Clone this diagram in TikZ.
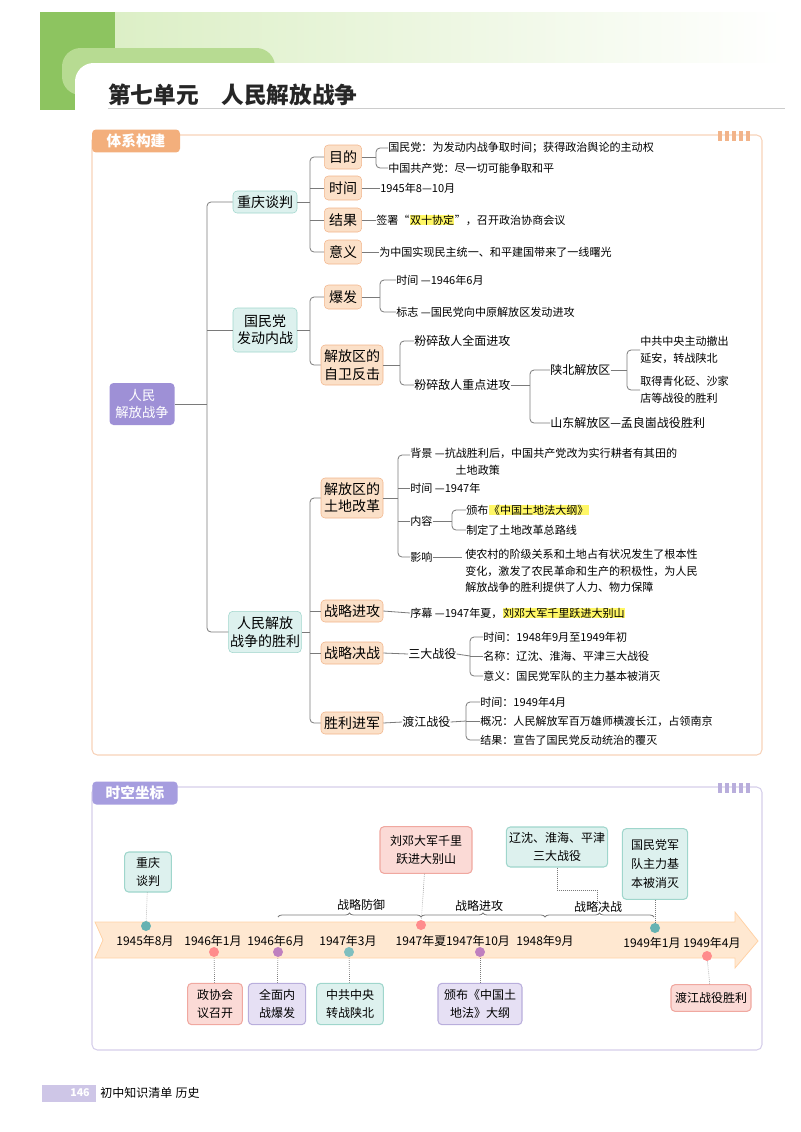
\documentclass[tikz,border=0pt]{standalone}
\usepackage{fontspec}
\setmainfont{Noto Sans CJK SC}
\usetikzlibrary{decorations.pathreplacing}
\definecolor{ln}{HTML}{7A7A7A}
\definecolor{orfill}{HTML}{FBE0C8}
\definecolor{ordraw}{HTML}{F2B48A}
\definecolor{tefill}{HTML}{DDF1EE}
\definecolor{tedraw}{HTML}{9FD6CC}
\definecolor{pufill}{HTML}{E6E0F4}
\definecolor{pudraw}{HTML}{B9AEDC}
\definecolor{pkfill}{HTML}{FBDAD6}
\definecolor{pkdraw}{HTML}{F0A8A0}
\definecolor{rootc}{HTML}{9E90D6}
\definecolor{gdark}{HTML}{8DC460}
\definecolor{gmid}{HTML}{B7DB92}
\definecolor{glight}{HTML}{DCEFC6}
\begin{document}
\begin{tikzpicture}[x=0.75pt,y=-0.75pt,
 conn/.style={draw=ln,line width=0.6pt,rounded corners=3pt},
 l1/.style={draw=tedraw,fill=tefill,rounded corners=3pt,font=\fontsize{10.5pt}{13pt}\selectfont,align=center,inner sep=1pt},
 l2/.style={draw=ordraw,fill=orfill,rounded corners=3pt,font=\fontsize{10.5pt}{13pt}\selectfont,align=center,inner sep=1pt},
 tx/.style={anchor=west,font=\fontsize{8.3pt}{12.5pt}\selectfont,inner sep=0pt,align=left},
 hl/.style={fill=yellow!60},
 tb/.style={rounded corners=3pt,font=\fontsize{9pt}{14pt}\selectfont,align=center,inner sep=2pt,line width=0.8pt},
 tbt/.style={tb,draw=tedraw,fill=tefill},
 tbp/.style={tb,draw=pudraw,fill=pufill},
 tbk/.style={tb,draw=pkdraw,fill=pkfill},
 dot/.style={circle,inner sep=0pt,minimum size=7.5pt},
 dl/.style={draw=ln,densely dotted,line width=0.5pt},
 yr/.style={font=\fontsize{9pt}{11pt}\selectfont\itshape,inner sep=0pt},
 br/.style={draw=ln,line width=0.6pt,decorate,decoration={brace,amplitude=3pt}}
]
\useasboundingbox (0,0) rectangle (800,1132);
% header
\fill[gdark] (40,12) rectangle (115,110);
\shade[left color=glight, right color=white] (115,12) rectangle (785,65);
\fill[gmid,rounded corners=14pt] (62,48) rectangle (275,95);
\fill[white,rounded corners=14pt] (75,63) rectangle (800,130);
\fill[white] (75,100) rectangle (800,130);
\draw[gray!40,line width=0.5pt] (108,108) -- (785,108);
\node[anchor=west,font=\fontsize{17pt}{20pt}\selectfont\bfseries,inner sep=0pt,text=black!85] (title) at (108,95) {第七单元\quad 人民解放战争};
% section 1
\draw[draw=ordraw!60,line width=0.8pt,rounded corners=4pt] (92,135) rectangle (762,755);
\node[fill=ordraw!90!orange,text=white,rounded corners=3pt,font=\fontsize{11pt}{13pt}\selectfont\bfseries,minimum width=66pt,minimum height=16pt] (tab1) at (136,141) {体系构建};
\foreach \i in {0,1,2,3,4} \fill[ordraw] (718+\i*7,131) rectangle (722+\i*7,141);
% root
\node[fill=rootc,text=white,rounded corners=3pt,minimum width=48.75pt,minimum height=31.5pt,align=center,font=\fontsize{10pt}{13pt}\selectfont,inner sep=0pt] (root) at (142,404) {人民\\解放战争};
\node[l1,minimum width=48pt,minimum height=16.5pt] (a) at (265,202) {重庆谈判};
\node[l1,minimum width=48pt,minimum height=33pt] (b) at (265,330) {国民党\\发动内战};
\node[l1,minimum width=52pt,minimum height=31pt] (c) at (265,632) {人民解放\\战争的胜利};
\coordinate (t0) at (207,404);
\draw[conn] (root.east) -- (t0);
\draw[conn] (a.west) -| (t0) |- (c.west);
\draw[conn] (b.west) -- (b.west-|t0);
% level 2
\node[l2,minimum width=28pt,minimum height=18pt] (a1) at (343,157) {目的};
\node[l2,minimum width=28pt,minimum height=18pt] (a2) at (343,188) {时间};
\node[l2,minimum width=28pt,minimum height=18pt] (a3) at (343,220) {结果};
\node[l2,minimum width=28pt,minimum height=18pt] (a4) at (343,252) {意义};
\coordinate (ta) at (310,202);
\draw[conn] (a.east) -- (ta);
\draw[conn] (a1.west) -| (ta) |- (a4.west);
\draw[conn] (a2.west) -- (a2.west-|ta);
\draw[conn] (a3.west) -- (a3.west-|ta);
\node[l2,minimum width=28pt,minimum height=18pt] (b1) at (343,297) {爆发};
\node[l2,minimum width=46.5pt,minimum height=30pt] (b2) at (352,365) {解放区的\\自卫反击};
\coordinate (tb) at (310,330);
\draw[conn] (b.east) -- (tb);
\draw[conn] (b1.west) -| (tb) |- (b2.west);
\node[l2,minimum width=46.5pt,minimum height=30pt] (c1) at (352,498) {解放区的\\土地改革};
\node[l2,minimum width=46.5pt,minimum height=16.5pt] (c2) at (352,611) {战略进攻};
\node[l2,minimum width=46.5pt,minimum height=16.5pt] (c3) at (352,653) {战略决战};
\node[l2,minimum width=46.5pt,minimum height=16.5pt] (c4) at (352,723) {胜利进军};
\coordinate (tc) at (310,632);
\draw[conn] (c.east) -- (tc);
\draw[conn] (c1.west) -| (tc) |- (c4.west);
\draw[conn] (c2.west) -- (c2.west-|tc);
\draw[conn] (c3.west) -- (c3.west-|tc);
% a texts
\node[tx] (a1x) at (388,148) {国民党：为发动内战争取时间；获得政治舆论的主动权};
\node[tx] (a1y) at (388,168) {中国共产党：尽一切可能争取和平};
\draw[conn] (a1.east) -- (376,157);
\draw[conn] (a1x.west) -| (376,157) |- (a1y.west);
\node[tx] (a2x) at (380,188) {1945年8—10月};
\draw[conn] (a2.east) -- (a2x.west);
\node[tx] (a3x) at (376,220) {签署“};
\node[tx,hl] (a3y) at (a3x.east) {双十协定};
\node[tx] (a3z) at (a3y.east) {”，召开政治协商会议};
\draw[conn] (a3.east) -- (a3x.west);
\node[tx] (a4x) at (379,252) {为中国实现民主统一、和平建国带来了一线曙光};
\draw[conn] (a4.east) -- (a4x.west);
% b texts
\node[tx] (b1x) at (396,280) {时间 —1946年6月};
\node[tx] (b1y) at (396,312) {标志 —国民党向中原解放区发动进攻};
\draw[conn] (b1.east) -- (380,297);
\draw[conn] (b1x.west) -| (380,297) |- (b1y.west);
\node[tx,font=\fontsize{9pt}{12pt}\selectfont] (b2x) at (414,341) {粉碎敌人全面进攻};
\node[tx,font=\fontsize{9pt}{12pt}\selectfont] (b2y) at (414,385) {粉碎敌人重点进攻};
\draw[conn] (b2.east) -- (400,365);
\draw[conn] (b2x.west) -| (400,365) |- (b2y.west);
\node[tx,font=\fontsize{9pt}{12pt}\selectfont] (sb) at (550,370) {陕北解放区};
\node[tx,font=\fontsize{9pt}{12pt}\selectfont] (sd) at (550,423) {山东解放区—孟良崮战役胜利};
\draw[conn] (b2y.east) -- (530,385);
\draw[conn] (sb.west) -| (530,385) |- (sd.west);
\node[tx] (sb1) at (640,350) {中共中央主动撤出\\延安，转战陕北};
\node[tx] (sb2) at (640,390) {取得青化砭、沙家\\店等战役的胜利};
\draw[conn] (sb.east) -- (627,370);
\draw[conn] (sb1.west) -| (627,370) |- (sb2.west);
% c1 texts
\node[tx] (cb) at (410,462) {背景 —抗战胜利后，中国共产党改为实行耕者有其田的\\\hspace*{4.1em}土地政策};
\node[tx] (ct) at (410,488) {时间 —1947年};
\node[tx] (cn) at (410,521) {内容};
\node[tx] (cy) at (410,557) {影响};
\coordinate (k0) at (398,498);
\draw[conn] (c1.east) -- (k0);
\draw[conn] (410,455) -| (k0) |- (cy.west);
\draw[conn] (ct.west) -- (ct.west-|k0);
\draw[conn] (cn.west) -- (cn.west-|k0);
\node[tx] (cn0) at (466,510) {颁布};
\node[tx,hl] (cn1) at (cn0.east) {《中国土地法大纲》};
\node[tx] (cn2) at (466,530) {制定了土地改革总路线};
\draw[conn] (cn.east) -- (452,521);
\draw[conn] (cn0.west) -| (452,521) |- (cn2.west);
\node[tx,anchor=north west] (cyx) at (465,549) {使农村的阶级关系和土地占有状况发生了根本性\\变化，激发了农民革命和生产的积极性，为人民\\解放战争的胜利提供了人力、物力保障};
\draw[conn] (cy.east) -- (462,557);
% c2
\node[tx] (c2x) at (410,613) {序幕 —1947年夏，};
\node[tx,hl] (c2y) at (c2x.east) {刘邓大军千里跃进大别山};
\draw[conn] (c2.east) -- (c2x.west);
% c3
\node[tx,font=\fontsize{9pt}{12pt}\selectfont] (c3x) at (408,654) {三大战役};
\node[tx] (c3a) at (483,637) {时间：1948年9月至1949年初};
\node[tx] (c3b) at (483,656) {名称：辽沈、淮海、平津三大战役};
\node[tx] (c3c) at (483,676) {意义：国民党军队的主力基本被消灭};
\draw[conn] (c3.east) -- (c3x.west);
\draw[conn] (c3x.east) -- (470,656);
\draw[conn] (c3a.west) -| (470,656) |- (c3c.west);
\draw[conn] (c3b.west) -- (470,656);
% c4
\node[tx,font=\fontsize{9pt}{12pt}\selectfont] (c4x) at (402,722) {渡江战役};
\node[tx] (c4a) at (480,702) {时间：1949年4月};
\node[tx] (c4b) at (480,721) {概况：人民解放军百万雄师横渡长江，占领南京};
\node[tx] (c4c) at (480,740) {结果：宣告了国民党反动统治的覆灭};
\draw[conn] (c4.east) -- (c4x.west);
\draw[conn] (c4x.east) -- (466,721);
\draw[conn] (c4a.west) -| (466,721) |- (c4c.west);
\draw[conn] (c4b.west) -- (466,721);
% section 2
\draw[draw=pudraw!60,line width=0.8pt,rounded corners=4pt] (92,787) rectangle (762,1050);
\node[fill=pudraw!90!blue,text=white,rounded corners=3pt,font=\fontsize{11pt}{13pt}\selectfont\bfseries,minimum width=64pt,minimum height=16pt] (tab2) at (135,793) {时空坐标};
\foreach \i in {0,1,2,3,4} \fill[pudraw] (718+\i*7,783) rectangle (722+\i*7,793);
\fill[orange!18] (95,922) -- (735,922) -- (735,912) -- (758,941) -- (735,968) -- (735,958) -- (95,958) -- (103,940) -- cycle;
\draw[orange!35,line width=0.6pt] (95,922) -- (735,922) -- (735,912) -- (758,941) -- (735,968) -- (735,958) -- (95,958) -- (103,940) -- cycle;
\node[yr] (y1) at (145,941) {1945年8月};
\node[yr] (y2) at (213,941) {1946年1月};
\node[yr] (y3) at (276,941) {1946年6月};
\node[yr] (y4) at (348,941) {1947年3月};
\node[yr] (y5) at (421,941) {1947年夏};
\node[yr] (y6) at (478,941) {1947年10月};
\node[yr] (y7) at (545,941) {1948年9月};
\node[yr] (y8) at (652,943) {1949年1月};
\node[yr] (y9) at (712,943) {1949年4月};
\node[dot,fill=teal!60] (d1) at (146,926) {};
\node[dot,fill=red!45] (d5) at (421,925) {};
\node[dot,fill=teal!60] (d8) at (655,928) {};
\node[dot,fill=red!45] (d2) at (214,952) {};
\node[dot,fill=violet!50] (d3) at (278,952) {};
\node[dot,fill=teal!50] (d4) at (349,952) {};
\node[dot,fill=violet!50] (d6) at (480,952) {};
\node[dot,fill=red!45] (d9) at (707,956) {};
% braces
\draw[br] (278,917) -- (421,917);
\draw[br] (421,917) -- (545,917);
\draw[br] (545,917) -- (654,917);
\node[font=\fontsize{9pt}{11pt}\selectfont,inner sep=0pt] (p1) at (361,905) {战略防御};
\node[font=\fontsize{9pt}{11pt}\selectfont,inner sep=0pt] (p2) at (479,906) {战略进攻};
\node[font=\fontsize{9pt}{11pt}\selectfont,inner sep=0pt] (p3) at (598,907) {战略决战};
% boxes
\node[tbt,minimum width=35pt,minimum height=30pt] (e1) at (148,872) {重庆\\谈判};
\node[tbk,minimum width=69pt,minimum height=35pt] (e5) at (426,850) {刘邓大军千里\\跃进大别山};
\node[tbt,minimum width=60pt,minimum height=30pt] (e7) at (557,847) {辽沈、淮海、平津\\三大战役};
\node[tbt,minimum width=49pt,minimum height=53pt] (e8) at (655,864) {国民党军\\队主力基\\本被消灭};
\node[tbk,minimum width=41pt,minimum height=31pt] (e2) at (215,1004) {政协会\\议召开};
\node[tbp,minimum width=43pt,minimum height=31pt] (e3) at (277,1004) {全面内\\战爆发};
\node[tbt,minimum width=50pt,minimum height=31pt] (e4) at (350,1004) {中共中央\\转战陕北};
\node[tbp,minimum width=63pt,minimum height=31pt] (e6) at (480,1004) {颁布《中国土\\地法》大纲};
\node[tbk,minimum width=60pt,minimum height=20pt] (e9) at (711,998) {渡江战役胜利};
\draw[dl] (e1) -- (d1);
\draw[dl] (e5) -- (d5);
\draw[dl] (e8) -- (d8);
\draw[dl] (e2) -- (d2);
\draw[dl] (e3) -- (d3);
\draw[dl] (e4) -- (d4);
\draw[dl] (e6) -- (d6);
\draw[dl] (e9) -- (d9);
\draw[dl] (e7.south) |- (597,890) -- (597,905);
% footer
\fill[pudraw!70] (42,1085) rectangle (96,1102);
\node[text=white,font=\fontsize{8pt}{10pt}\selectfont\bfseries,inner sep=0pt] (pg) at (80,1093) {146};
\node[anchor=west,font=\fontsize{9pt}{11pt}\selectfont,inner sep=0pt] (ft) at (100,1093) {初中知识清单\;历史};
\end{tikzpicture}
\end{document}
